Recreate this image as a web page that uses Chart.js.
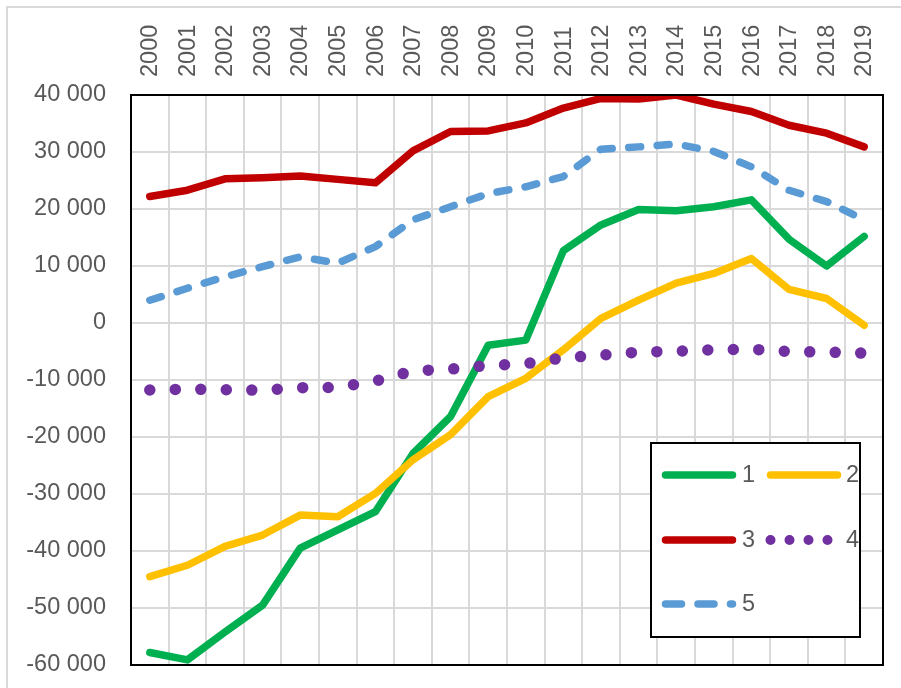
<!DOCTYPE html>
<html><head><meta charset="utf-8">
<script src="https://cdn.jsdelivr.net/npm/chart.js@4.4.1/dist/chart.umd.min.js"></script>
<style>
html,body{margin:0;padding:0;background:#fff;overflow:hidden;width:901px;height:688px;}
#frame{position:absolute;left:6px;top:6px;width:1000px;height:1000px;border:2px solid #d9d9d9;}
#wrap{position:absolute;left:0;top:0;width:901px;height:688px;}
</style></head><body>
<div id="frame"></div>
<div id="wrap"><canvas id="c" width="901" height="688"></canvas></div>
<script>
const years = ['2000','2001','2002','2003','2004','2005','2006','2007','2008','2009','2010','2011','2012','2013','2014','2015','2016','2017','2018','2019'];
const seriesNames = ['1','2','3','4','5'];
const series1 = [-57800,-59100,-54200,-49500,-39500,-36300,-33100,-22900,-16400,-3900,-3000,12700,17200,19900,19700,20400,21600,14700,10000,15200];
const series2 = [-44500,-42500,-39200,-37200,-33700,-34000,-29900,-24000,-19600,-12900,-9700,-4700,800,4000,7000,8700,11300,5900,4300,-400];
const series3 = [22200,23300,25300,25500,25800,25200,24600,30200,33600,33700,35100,37700,39400,39300,40000,38400,37100,34700,33300,30900];
const series4 = [-11750,-11600,-11700,-11800,-11350,-11300,-10200,-8400,-8100,-7450,-7150,-6100,-5650,-5100,-4950,-4700,-4600,-5000,-5100,-5300];
const series5 = [4000,6100,8100,9900,11600,10500,13400,18100,20400,22700,23900,25700,30500,30900,31400,30100,27400,23300,21300,18100];
const yMin = -60000, yMax = 40000, yStep = 10000;

const TEXT = '#595959';
const FONT = {family:'Liberation Sans', size:23.5};
function fmt(v){
  const s = Math.abs(v).toString().replace(/\B(?=(\d{3})+(?!\d))/g,' ');
  return (v < 0 ? '-' : '') + s;
}

const legendDash = {3:[0,19], 4:[16,16.5]};
const legendWidth = {3:10};

const boxLegend = {
  id:'boxLegend',
  afterDraw(chart){
    const ctx = chart.ctx, a = chart.chartArea;
    ctx.save();
    ctx.strokeStyle = '#000'; ctx.lineWidth = 2;
    ctx.strokeRect(a.left, a.top, a.right - a.left, a.bottom - a.top);
    const bx = a.right - 232, by = a.bottom - 222, bw = 209, bh = 194;
    ctx.fillStyle = '#fff';
    ctx.fillRect(bx, by, bw, bh);
    ctx.strokeRect(bx, by, bw, bh);
    const rowsY = [32, 97, 161];
    const colX = [14.5, 119.5];
    const textX = [91, 195];
    chart.data.datasets.forEach((ds, i) => {
      const r = Math.floor(i / 2), c = i % 2;
      const y = by + rowsY[r];
      const x0 = bx + colX[c];
      ctx.beginPath();
      ctx.setLineDash(legendDash[i] || ds.borderDash || []);
      ctx.lineCap = 'round';
      ctx.lineWidth = legendWidth[i] || ds.borderWidth;
      ctx.strokeStyle = ds.borderColor;
      ctx.moveTo(x0, y); ctx.lineTo(x0 + 67, y);
      ctx.stroke();
      ctx.setLineDash([]);
      ctx.fillStyle = TEXT;
      ctx.font = FONT.size + 'px ' + FONT.family;
      ctx.textAlign = 'left'; ctx.textBaseline = 'middle';
      ctx.fillText(ds.label, bx + textX[c], y + 1);
    });
    ctx.restore();
  }
};

function mk(label, data, color, order, extra){
  return Object.assign({label, data, borderColor:color, backgroundColor:color, borderWidth:7.5,
    pointRadius:0, tension:0, fill:false, borderCapStyle:'round', borderJoinStyle:'round', order}, extra||{});
}

new Chart(document.getElementById('c'), {
  type:'line',
  data:{
    labels: years,
    datasets:[
      mk(seriesNames[0], series1, '#00B050', 5),
      mk(seriesNames[1], series2, '#FFC000', 4),
      mk(seriesNames[2], series3, '#C00000', 3),
      mk(seriesNames[3], series4, '#7030A0', 2, {borderWidth:11.5, borderDash:[0,25.5]}),
      mk(seriesNames[4], series5, '#5B9BD5', 1, {borderDash:[12,16.5]})
    ]
  },
  options:{
    responsive:false, animation:false,
    layout:{autoPadding:false, padding:{left:0, right:18, top:0, bottom:23}},
    plugins:{legend:{display:false}, tooltip:{enabled:false}},
    scales:{
      x:{type:'category', position:'top', offset:true,
        grid:{offset:true, color:'#d9d9d9', lineWidth:2, drawTicks:false},
        border:{display:true, color:'#000', width:2},
        ticks:{minRotation:90, maxRotation:90, padding:18, labelOffset:29, autoSkip:false, color:TEXT, font:FONT},
        afterFit(s){ s.height = 95; }
      },
      y:{min:yMin, max:yMax,
        grid:{color:'#d9d9d9', lineWidth:2, drawTicks:true, tickLength:25, tickColor:'rgba(0,0,0,0)'},
        border:{display:true, color:'#000', width:2},
        ticks:{stepSize:yStep, padding:0, color:TEXT, font:FONT, callback:(v)=>fmt(v)},
        afterFit(s){ s.width = 131; }
      }
    }
  },
  plugins:[boxLegend]
});
</script>
</body></html>
